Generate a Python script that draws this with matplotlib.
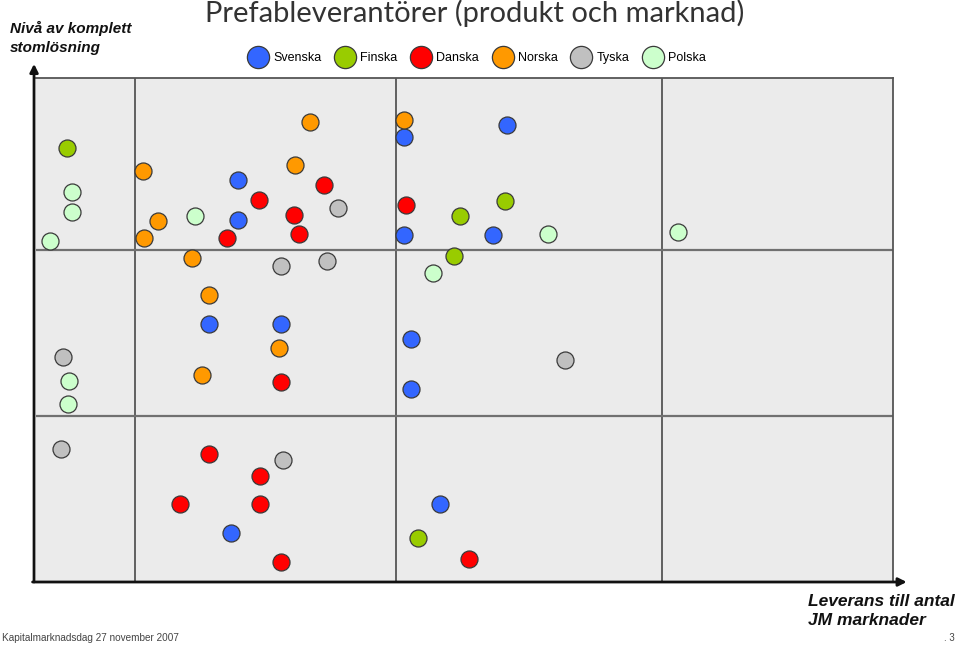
import matplotlib
matplotlib.use("Agg")
import matplotlib.pyplot as plt
from matplotlib.lines import Line2D

# ---- data (positions; x: delivery to JM markets, y: level of complete frame solution)
series_names = ["Svenska", "Finska", "Danska", "Norska", "Tyska", "Polska"]
series_colors = ["#3366ff", "#99cc00", "#ff0000", "#ff9900", "#c0c0c0", "#ccffcc"]

svenska_x = [368, 471, 202, 202, 368, 457, 173, 245, 375, 375, 404, 195]
svenska_y = [445, 457, 402, 362, 347, 347, 258, 258, 243, 193, 78, 49]

finska_x = [31, 424, 469, 418, 382]
finska_y = [434, 366, 381, 326, 44]

danska_x = [223, 288, 258, 263, 191, 370, 245, 173, 224, 144, 224, 245, 433]
danska_y = [382, 397, 367, 348, 344, 377, 200, 128, 106, 78, 78, 20, 23]

norska_x = [274, 368, 259, 107, 122, 108, 156, 173, 243, 166]
norska_y = [460, 462, 417, 411, 361, 344, 324, 287, 234, 207]

tyska_x = [302, 245, 291, 529, 27, 25, 247]
tyska_y = [374, 316, 321, 222, 225, 133, 122]

polska_x = [36, 36, 14, 159, 512, 642, 397, 33, 32]
polska_y = [390, 370, 341, 366, 348, 350, 309, 201, 178]

x_bounds = [99, 360, 626]   # column borders
y_bounds = [166, 332]       # row borders
x_max, y_max = 857, 504

xs = [svenska_x, finska_x, danska_x, norska_x, tyska_x, polska_x]
ys = [svenska_y, finska_y, danska_y, norska_y, tyska_y, polska_y]

# ---- figure
W, H = 960, 645
fig = plt.figure(figsize=(W / 100, H / 100), dpi=100)
fig.patch.set_facecolor("white")

ax = fig.add_axes([36 / W, (H - 582) / H, (893 - 36) / W, (582 - 78) / H])
ax.set_facecolor("#ebebeb")
ax.set_xlim(0, x_max)
ax.set_ylim(0, y_max)
ax.set_xticks([])
ax.set_yticks([])
for s in ["top", "right"]:
    ax.spines[s].set_color("#555555")
    ax.spines[s].set_linewidth(1.3)
for s in ["left", "bottom"]:
    ax.spines[s].set_visible(False)

for xb in x_bounds:
    ax.axvline(xb, color="#555555", lw=1.3, zorder=1)
for yb in y_bounds:
    ax.axhline(yb, color="#707070", lw=1.6, zorder=1)

# axis arrows
ax.annotate("", xy=(-0.0023, 1.028), xytext=(-0.0023, 0.0), xycoords="axes fraction",
            arrowprops=dict(arrowstyle="-|>", color="#111111", lw=2.0, mutation_scale=12,
                            shrinkA=0, shrinkB=0), annotation_clip=False)
ax.annotate("", xy=(1.016, 0.0), xytext=(-0.004, 0.0), xycoords="axes fraction",
            arrowprops=dict(arrowstyle="-|>", color="#111111", lw=2.0, mutation_scale=12,
                            shrinkA=0, shrinkB=0), annotation_clip=False)

for name, col, x, y in zip(series_names, series_colors, xs, ys):
    ax.scatter(x, y, s=150, c=col, edgecolors="#3a3a3a", linewidths=0.9, zorder=3,
               clip_on=False, label=name)

# legend
handles = [Line2D([], [], marker="o", ls="none", markersize=16, markerfacecolor=c,
                  markeredgecolor="#3a3a3a", markeredgewidth=0.9) for c in series_colors]
leg = fig.legend(handles, series_names, loc="center", bbox_to_anchor=(477 / W, 1 - 58 / H),
                 ncol=6, frameon=False, handletextpad=0.4, columnspacing=1.1,
                 handlelength=1.6, borderpad=0.2,
                 prop={"family": "Liberation Sans", "size": 9})

# texts
fig.text(475 / W, 1 - 13 / H, "Prefableverantörer (produkt och marknad)", ha="center", va="center",
         fontsize=21, color="#333333", family="Lato")
fig.text(10 / W, 1 - 38 / H, "Nivå av komplett\nstomlösning", ha="left", va="center",
         fontsize=11, fontweight="bold", fontstyle="italic", family="Liberation Sans",
         color="#111111", linespacing=1.4)
fig.text(808 / W, 1 - 611 / H, "Leverans till antal\nJM marknader", ha="left", va="center",
         fontsize=12.5, fontweight="bold", fontstyle="italic",
         family=["Liberation Sans Narrow", "Liberation Sans"], color="#111111", linespacing=1.3)
fig.text(2 / W, 1 - 638 / H, "Kapitalmarknadsdag 27 november 2007", ha="left", va="center",
         fontsize=7.2, family=["Liberation Sans Narrow", "Liberation Sans"], color="#444444")
fig.text(955 / W, 1 - 638 / H, ". 3", ha="right", va="center",
         fontsize=7, family=["Liberation Sans Narrow", "Liberation Sans"], color="#444444")

fig.savefig("out.png", dpi=100)
